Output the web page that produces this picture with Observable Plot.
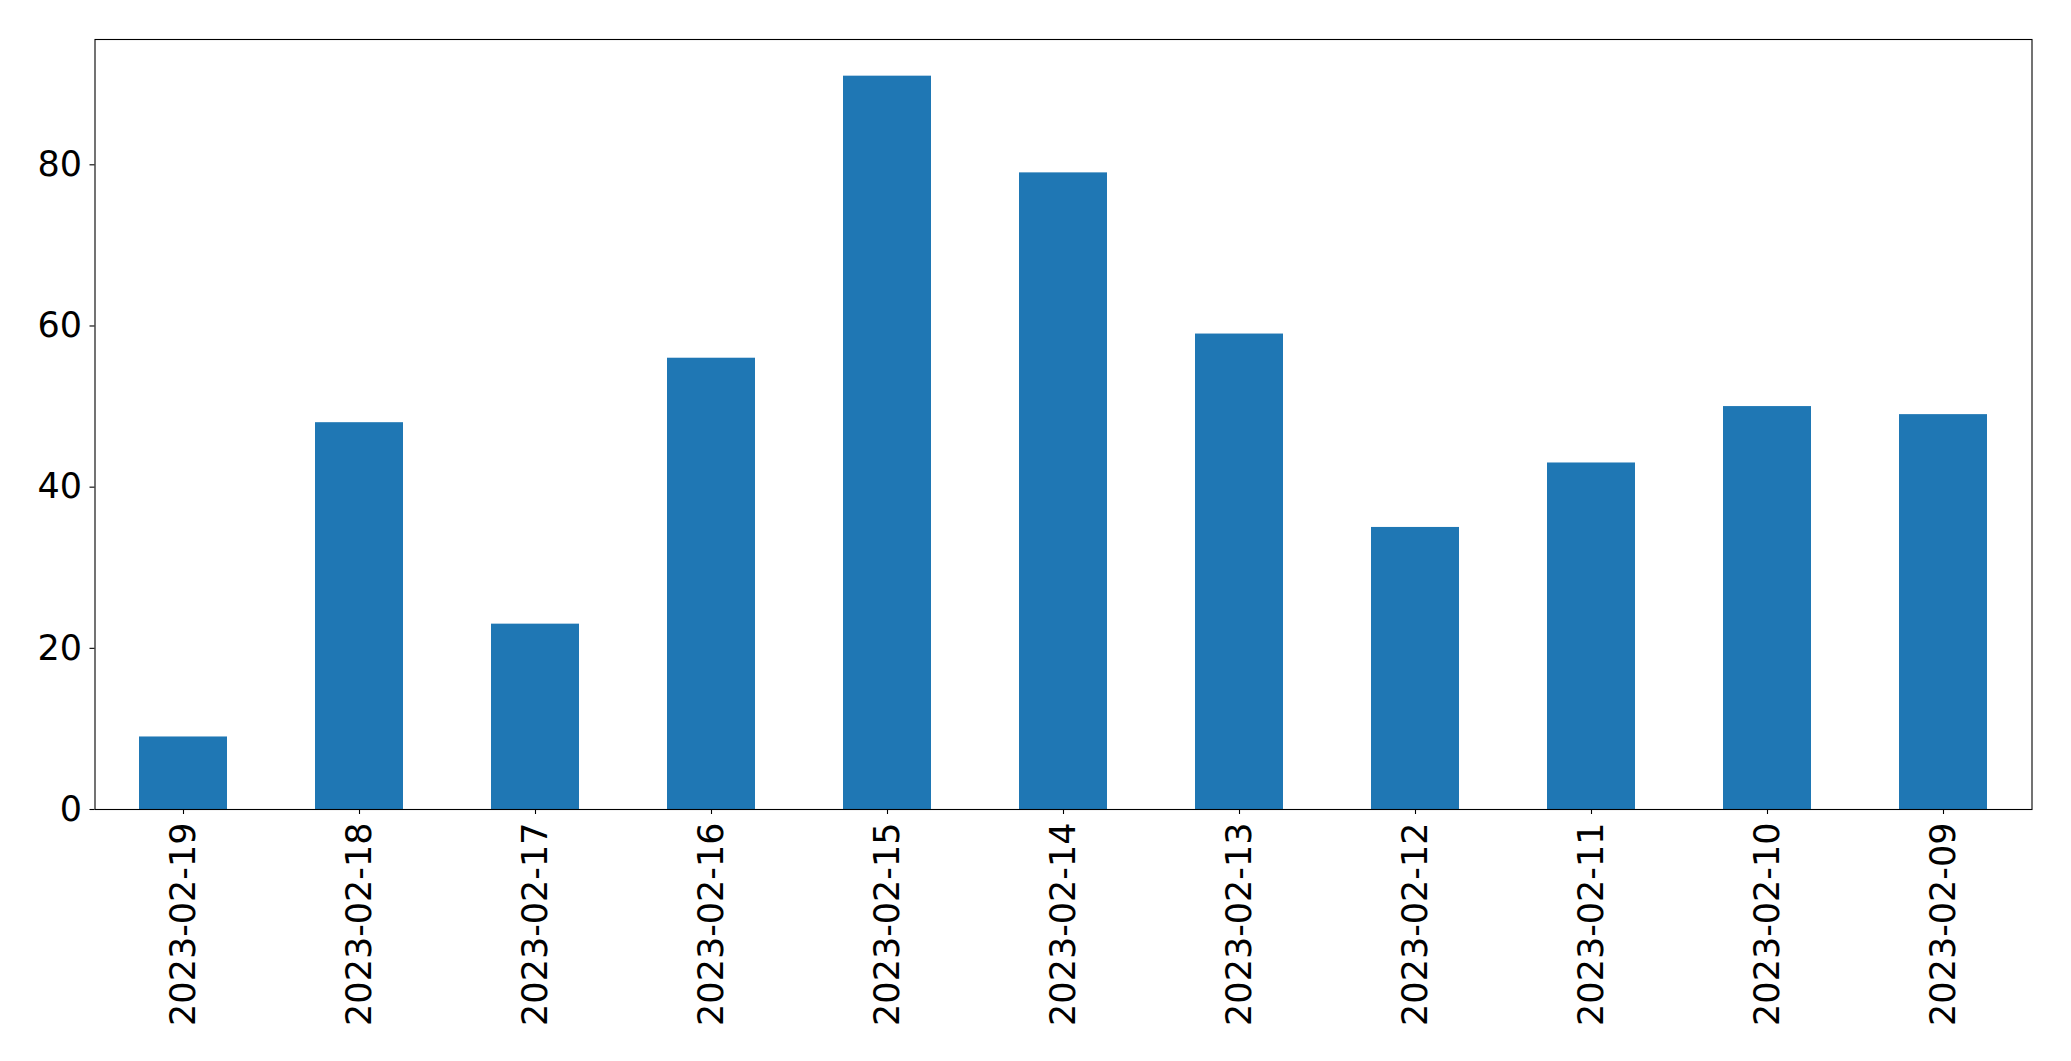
<!DOCTYPE html>
<html>
<head>
<meta charset="utf-8">
<script src="https://cdn.jsdelivr.net/npm/d3@7"></script>
<script src="https://cdn.jsdelivr.net/npm/@observablehq/plot@0.6"></script>
<style>
  html, body { margin: 0; padding: 0; background: #fff; }
  svg { display: block; }
</style>
</head>
<body>
<div id="chart"></div>
<script>
const dates = ["2023-02-19","2023-02-18","2023-02-17","2023-02-16","2023-02-15","2023-02-14","2023-02-13","2023-02-12","2023-02-11","2023-02-10","2023-02-09"];
const counts = [9, 48, 23, 56, 91, 79, 59, 35, 43, 50, 49];
const yTicks = [0, 20, 40, 60, 80];

const data = dates.map((d, i) => ({date: d, count: counts[i]}));

const chart = Plot.plot({
  width: 2071,
  height: 1061,
  marginLeft: 94.5,
  marginRight: 39.5,
  marginTop: 39,
  marginBottom: 252,
  style: {fontFamily: "'DejaVu Sans', sans-serif", fontSize: "35px", color: "#000", background: "#fff"},
  x: {domain: dates, paddingInner: 0.5, paddingOuter: 0.25, label: null},
  y: {domain: [0, 95.55], label: null},
  marks: [
    Plot.barY(data, {x: "date", y: "count", fill: "#1f77b4"}),
    Plot.axisY({ticks: yTicks, tickSize: 5, tickPadding: 8, fontSize: 35, label: null, strokeWidth: 1.1}),
    Plot.axisX({tickSize: 5, tickPadding: 8, tickRotate: -90, fontSize: 35, label: null, strokeWidth: 1.1}),
    Plot.frame({stroke: "#000", strokeWidth: 1.1})
  ]
});
document.getElementById("chart").appendChild(chart);
</script>
</body>
</html>
